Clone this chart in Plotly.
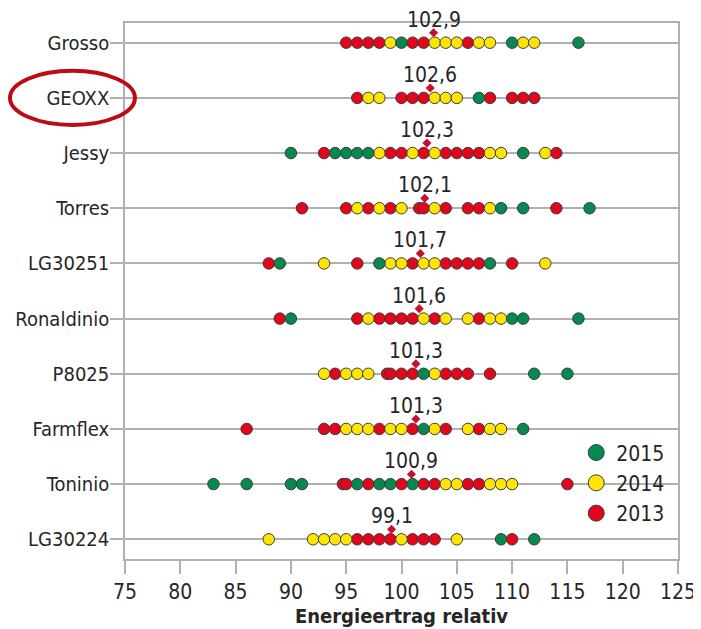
import plotly.graph_objects as go

FONT = "Liberation Sans Narrow, DejaVu Sans Condensed, Arial Narrow, sans-serif"

varieties = ["Grosso", "GEOXX", "Jessy", "Torres", "LG30251", "Ronaldinio",
             "P8025", "Farmflex", "Toninio", "LG30224"]
means = [102.9, 102.6, 102.3, 102.1, 101.7, 101.6, 101.3, 101.3, 100.9, 99.1]
mean_labels = ["102,9", "102,6", "102,3", "102,1", "101,7", "101,6",
               "101,3", "101,3", "100,9", "99,1"]

vals_2015 = {
    "Grosso": [100, 110, 116],
    "GEOXX": [107],
    "Jessy": [90, 94, 95, 96, 97, 111],
    "Torres": [109, 111, 117],
    "LG30251": [89, 98, 108],
    "Ronaldinio": [90, 110, 111, 116],
    "P8025": [102, 112, 115],
    "Farmflex": [102, 111],
    "Toninio": [83, 86, 90, 91, 96, 98, 99, 101],
    "LG30224": [109, 112],
}
vals_2014 = {
    "Grosso": [99, 103, 104, 105, 107, 108, 111, 112],
    "GEOXX": [97, 98, 103, 104, 105],
    "Jessy": [98, 101, 103, 108, 109, 113],
    "Torres": [96, 98, 100, 103, 108],
    "LG30251": [93, 99, 100, 102, 103, 113],
    "Ronaldinio": [97, 102, 104, 106, 108, 109],
    "P8025": [93, 95, 96, 97, 103],
    "Farmflex": [95, 96, 97, 99, 100, 103, 106, 108, 109],
    "Toninio": [104, 105, 108, 109, 110],
    "LG30224": [88, 92, 93, 94, 95, 100, 105],
}
vals_2013 = {
    "Grosso": [95, 96, 97, 98, 101, 102, 106],
    "GEOXX": [96, 100, 101, 102, 108, 110, 111, 112],
    "Jessy": [93, 99, 100, 102, 104, 105, 106, 107, 114],
    "Torres": [91, 95, 97, 99, 101.6, 102, 104, 106, 107, 114],
    "LG30251": [88, 96, 101, 104, 105, 106, 107, 110],
    "Ronaldinio": [89, 96, 98, 99, 100, 101, 103, 107],
    "P8025": [94, 98.7, 99, 100, 101, 104, 105, 106, 108],
    "Farmflex": [86, 93, 94, 98, 101, 104, 107],
    "Toninio": [94.7, 95, 97, 100, 102, 103, 106, 107, 115],
    "LG30224": [96, 97, 98, 99, 101, 102, 103, 110],
}

years = ["2015", "2014", "2013"]
colors = {"2015": "#06894F", "2014": "#FFE500", "2013": "#E3051B"}
data_by_year = {"2015": vals_2015, "2014": vals_2014, "2013": vals_2013}

n = len(varieties)
ypos = {v: n - 1 - i for i, v in enumerate(varieties)}

fig = go.Figure()

for yr in reversed(years):
    xs, ys = [], []
    for v in varieties:
        for x in data_by_year[yr][v]:
            xs.append(x)
            ys.append(ypos[v])
    fig.add_trace(go.Scatter(
        x=xs, y=ys, mode="markers", name=yr, showlegend=False,
        marker=dict(size=11.5, color=colors[yr], line=dict(color="#3c3c3c", width=1)),
    ))

# legend entries (larger symbols, as in the reference legend)
for yr in years:
    fig.add_trace(go.Scatter(
        x=[None], y=[None], mode="markers", name=yr,
        marker=dict(size=16, color=colors[yr], line=dict(color="#3c3c3c", width=1)),
    ))

# mean diamonds
fig.add_trace(go.Scatter(
    x=means, y=[ypos[v] + 0.18 for v in varieties], mode="markers",
    marker=dict(symbol="diamond", size=7, color="#C8102E"),
    showlegend=False, hoverinfo="skip",
))

for v, m, lab in zip(varieties, means, mean_labels):
    fig.add_annotation(x=m, y=ypos[v], text=lab, showarrow=False,
                       yshift=23, font=dict(family=FONT, size=21, color="#262626"))

# red oval around GEOXX
fig.add_shape(type="circle", xref="paper", yref="y",
              x0=-0.208, x1=0.018, y0=ypos["GEOXX"] - 0.49, y1=ypos["GEOXX"] + 0.49,
              line=dict(color="#BE0A14", width=4))

fig.update_layout(
    width=693, height=621,
    margin=dict(l=117, r=23, t=15, b=70),
    paper_bgcolor="white", plot_bgcolor="white",
    font=dict(family=FONT, size=20, color="#262626"),
    showlegend=True,
    legend=dict(x=0.816, y=0.142, xanchor="left", yanchor="middle",
                bgcolor="rgba(0,0,0,0)", font=dict(family=FONT, size=21),
                tracegroupgap=0),
    xaxis=dict(range=[75, 125], tickvals=list(range(75, 126, 5)),
               showgrid=False, zeroline=False, automargin=False,
               showline=True, mirror=True, linecolor="#b0b0b0", linewidth=1.5,
               ticks="outside", ticklen=13, tickcolor="#b0b0b0", tickwidth=1.5,
               tickfont=dict(size=21),
               title=dict(text="<b>Energieertrag relativ</b>", standoff=4,
                          font=dict(family=FONT, size=20))),
    yaxis=dict(range=[-0.357, n - 1 + 0.357], automargin=False,
               tickvals=[ypos[v] for v in varieties], ticktext=varieties,
               showgrid=True, gridcolor="#b0b0b0", gridwidth=1.5, zeroline=False,
               showline=True, mirror=True, linecolor="#b0b0b0", linewidth=1.5,
               ticks="outside", ticklen=13, tickcolor="#b0b0b0", tickwidth=1.5,
               ticklabelstandoff=-3),
)

fig.write_html("out.html")
